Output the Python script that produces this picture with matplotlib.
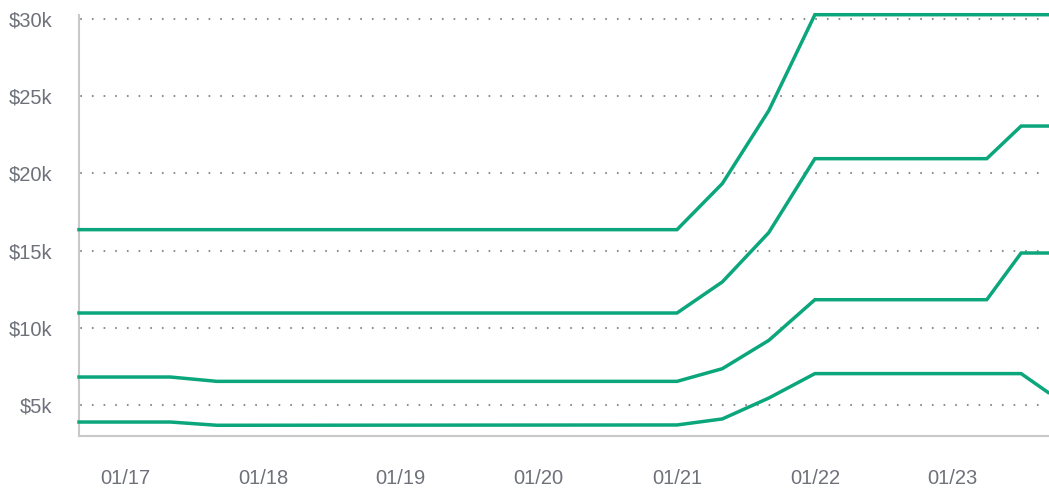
import matplotlib.pyplot as plt
import matplotlib.dates as mdates
import pandas as pd

# dates of the points where the lines bend
dates = pd.to_datetime(['2016-09-01', '2017-05-01', '2017-09-01', '2021-01-01',
                        '2021-05-01', '2021-09-01', '2022-01-01', '2023-04-01',
                        '2023-07-01', '2023-09-10'])

# values in dollars, one list per line (top to bottom)
line_top = [16350, 16350, 16350, 16350, 19330, 24050, 30250, 30250, 30250, 30250]
line_second = [10960, 10960, 10960, 10960, 12970, 16160, 20940, 20940, 23050, 23050]
line_third = [6820, 6820, 6540, 6540, 7360, 9190, 11820, 11820, 14840, 14840]
line_bottom = [3910, 3910, 3700, 3720, 4110, 5460, 7040, 7040, 7040, 5830]

y_ticks = [5000, 10000, 15000, 20000, 25000, 30000]
y_labels = ['$5k', '$10k', '$15k', '$20k', '$25k', '$30k']

green = '#0ba67b'
gray_text = '#6e7179'

plt.rcParams['font.family'] = ['Liberation Sans', 'DejaVu Sans']

fig = plt.figure(figsize=(10.49, 4.9), dpi=100)
ax = fig.add_axes([0.0753, 0.110, 0.9237, 0.860])

for values in [line_top, line_second, line_third, line_bottom]:
    ax.plot(dates, values, color=green, linewidth=2.5, clip_on=False,
            solid_joinstyle='miter', zorder=3)

ax.set_ylim(3000, 30250)
ax.set_xlim(pd.Timestamp('2016-09-01'), pd.Timestamp('2023-09-10'))

ax.set_yticks(y_ticks)
ax.set_yticklabels(y_labels)
ax.xaxis.set_major_locator(mdates.YearLocator())
ax.xaxis.set_major_formatter(mdates.DateFormatter('%m/%y'))

# pads are in points (1px = 0.72pt here)
ax.tick_params(axis='y', length=0, pad=19, labelsize=14.5, labelcolor=gray_text)
ax.tick_params(axis='x', length=0, pad=24, labelsize=14.5, labelcolor=gray_text)

# dotted horizontal grid
ax.yaxis.grid(True, color='#8f8f8f', linewidth=1.5, linestyle=(5, (0.8, 4.8)))
ax.xaxis.grid(False)
ax.set_axisbelow(True)

for side in ['top', 'right']:
    ax.spines[side].set_visible(False)
for side in ['left', 'bottom']:
    ax.spines[side].set_color('#c9c9c9')
    ax.spines[side].set_linewidth(1.5)

plt.savefig('out.png', dpi=100)
plt.close()
